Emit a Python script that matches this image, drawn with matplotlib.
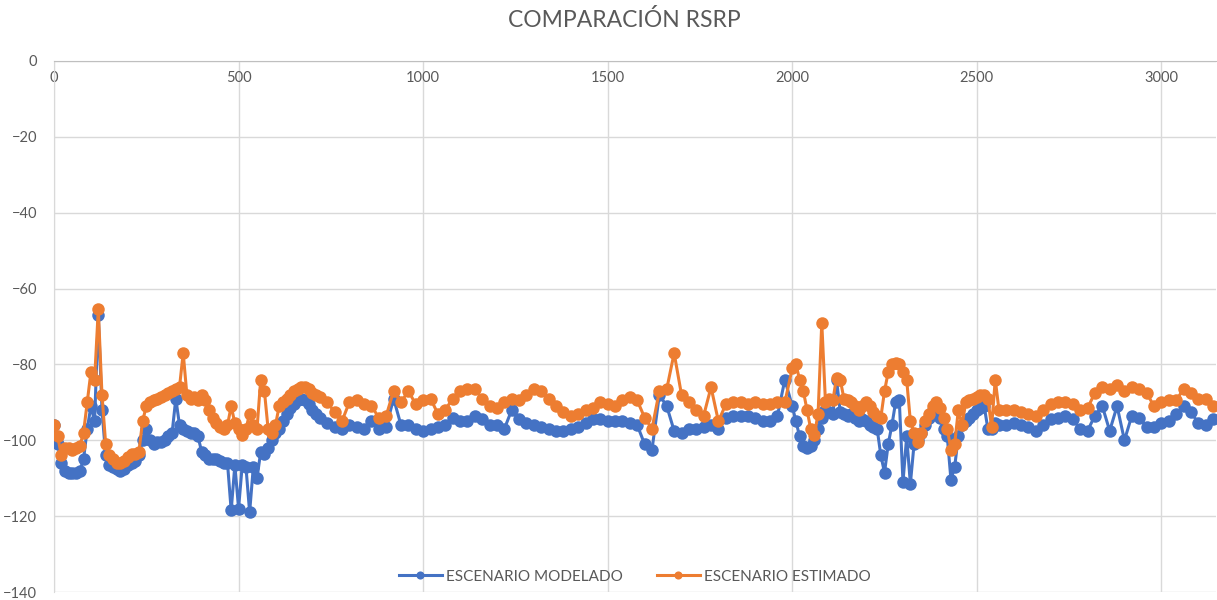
import matplotlib
matplotlib.use("Agg")
import matplotlib.pyplot as plt

plt.rcParams['font.family'] = ['Lato', 'DejaVu Sans']

TITLE = "COMPARACIÓN RSRP"
SERIES_NAMES = ["ESCENARIO MODELADO", "ESCENARIO ESTIMADO"]

# sample positions (x index of the Excel series)
X = (list(range(0, 720, 10)) + list(range(720, 2000, 20))
     + list(range(2000, 2560, 10)) + list(range(2560, 3160, 20)))

modelado = [
    # 0 - 710
    -96, -101, -106, -108, -108.5, -108.5, -108.5, -108, -105, -97,
    -91, -95, -67, -92, -104, -106.5, -107, -107.5, -108, -107.5,
    -106.5, -106, -105.5, -104, -100, -97, -100, -101, -100.5, -100.5,
    -100, -99, -98, -89, -96, -97, -97.5, -98, -98, -99,
    -103, -104, -105, -105, -105, -105.5, -106, -106, -118.5, -106.5,
    -118, -106.5, -107, -119, -107, -110, -103, -103.5, -102, -100,
    -98, -97, -95, -93, -91.5, -90.5, -89.5, -89, -89.5, -90.5,
    -92, -93,
    # 720 - 1980
    -94, -95.5, -96.5, -97, -96, -96.5, -97, -95, -97, -96.5,
    -89, -96, -96, -97, -97.5, -97, -96.5, -96, -94, -95,
    -95, -93.5, -94.5, -96, -96, -97, -92, -94.5, -95.5, -96,
    -96.5, -97, -97.5, -97.5, -97, -96.5, -95.5, -94.5, -94.5, -95,
    -95, -95, -95.5, -96, -101, -102.5, -88, -91, -97.5, -98,
    -97, -97, -96.5, -96, -97, -94, -93.5, -93.5, -93.5, -94,
    -95, -95, -93.5, -84,
    # 2000 - 2550
    -91, -95, -99, -101.5, -102, -101.5, -100, -97, -94, -92,
    -92.5, -93, -84, -92.5, -93, -93.5, -93, -94, -95, -94.5,
    -95, -96, -96.5, -97, -104, -108.5, -101, -96, -90, -89.5,
    -111, -99, -111.5, -101, -100, -98, -96, -94, -92, -91.5,
    -94, -97, -99, -110.5, -107, -99, -96, -95, -94, -93,
    -92, -91.5, -91, -97, -97, -95.5,
    # 2560 - 3140
    -96, -96, -95.5, -96, -96.5, -97.5, -96, -94.5, -94, -93.5,
    -94.5, -97, -97.5, -93.5, -91, -97.5, -91, -100, -93.5, -94,
    -96.5, -96.5, -95.5, -95, -93, -91, -92.5, -95.5, -96, -94.5,
]

estimado = [
    # 0 - 710
    -96, -99, -104, -102, -102, -102.5, -102, -101.5, -98, -90,
    -82, -84, -65.5, -88, -101, -104, -105, -106, -106, -105.5,
    -104.5, -103.5, -103.5, -103, -95, -91, -90, -89.5, -89, -88.5,
    -88, -87.5, -87, -86.5, -86, -77, -88, -89, -88.5, -89.5,
    -88, -89.5, -92, -94, -95.5, -96.5, -97, -96, -91, -95.5,
    -97, -98.5, -97, -93, -96, -97, -84, -87, -97, -98,
    -96, -91, -90, -89, -88, -87, -86.5, -86, -86, -86.5,
    -87.5, -88,
    # 720 - 1980
    -88.5, -90, -92.5, -95, -90, -89.5, -90.5, -91, -94, -93.5,
    -87, -90, -87, -90.5, -89.5, -89, -93, -92, -89, -87,
    -86.5, -86.5, -89, -91, -91.5, -90, -89, -89.5, -88, -86.5,
    -87, -89, -91, -92.5, -93.5, -93, -92, -91.5, -90, -90.5,
    -91, -89.5, -88.5, -89.5, -94, -97, -87, -86.5, -77, -88,
    -90, -92, -93.5, -86, -95, -90.5, -90, -90, -90.5, -90,
    -90.5, -90.5, -90, -90,
    # 2000 - 2550
    -81, -80, -84, -87, -92, -97, -98.5, -93, -69, -90,
    -89, -89.5, -83.5, -84, -89, -89.5, -90, -91, -92, -91,
    -90, -91, -92.5, -93.5, -94, -87, -82, -80, -79.5, -80,
    -82, -84, -95, -98, -100.5, -98, -95, -93, -91, -90,
    -91.5, -94, -97, -102.5, -101, -92, -96, -90, -89.5, -89,
    -88.5, -88, -88, -89, -96.5, -84,
    # 2560 - 3140
    -92, -92, -92, -92.5, -93, -93.5, -92, -90.5, -90, -90,
    -90.5, -92, -91.5, -87.5, -86, -86.5, -85.5, -87, -86, -86.5,
    -87.5, -91, -90, -89.5, -89.5, -86.5, -87.5, -89, -89, -91,
]

BLUE = "#4472C4"
ORANGE = "#ED7D31"
GRID = "#D9D9D9"
TEXT = "#595959"

fig = plt.figure(figsize=(12.17, 6.0), dpi=100)
ax = fig.add_axes([54 / 1217, 8 / 600, 1 - 55 / 1217, 531 / 600])

ax.plot(X, modelado, color=BLUE, lw=2.2, marker='o', ms=9,
        markeredgewidth=0, label=SERIES_NAMES[0], zorder=3)
ax.plot(X, estimado, color=ORANGE, lw=2.2, marker='o', ms=9,
        markeredgewidth=0, label=SERIES_NAMES[1], zorder=4)

ax.set_xlim(0, 3148)
ax.set_ylim(-140, 0)
ax.set_xticks(range(0, 3001, 500))
ax.set_yticks(range(-140, 1, 20))
ax.grid(True, color=GRID, lw=1)
ax.set_axisbelow(True)

ax.xaxis.set_ticks_position('top')
ax.tick_params(axis='x', length=0, pad=-17, labelsize=10.5, colors=TEXT)
ax.tick_params(axis='y', length=0, pad=12, labelsize=10.5, colors=TEXT)

for side in ['right', 'bottom']:
    ax.spines[side].set_visible(False)
ax.spines['left'].set_color(GRID)
ax.spines['top'].set_color("#BFBFBF")

fig.suptitle(TITLE, x=0.513, y=0.985, fontsize=16.5, color=TEXT)

leg = ax.legend(loc='lower center', bbox_to_anchor=(0.5, -0.01), ncol=2,
                frameon=False, fontsize=11, handlelength=2.8,
                columnspacing=2.2, handletextpad=0.3, markerscale=0.65)
for t in leg.get_texts():
    t.set_color(TEXT)

fig.savefig("out.png", dpi=100)
